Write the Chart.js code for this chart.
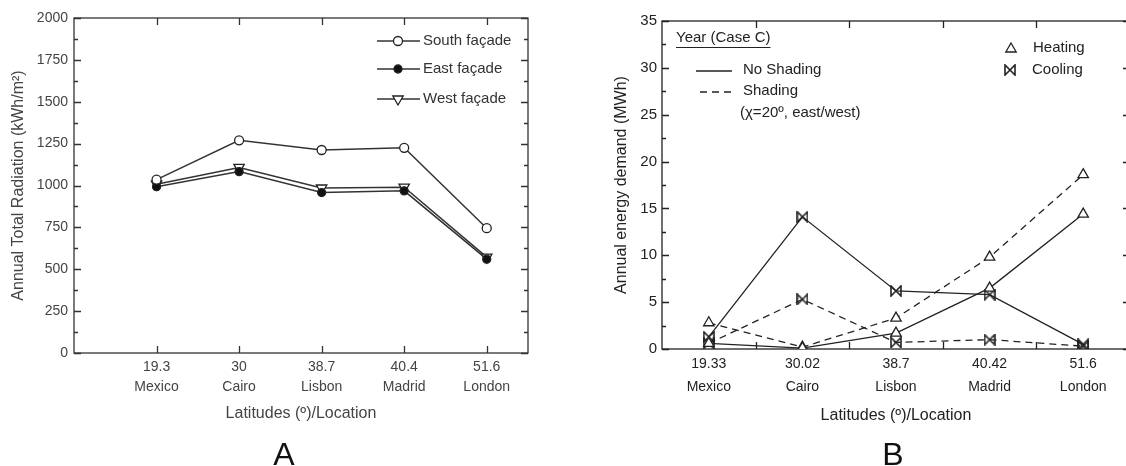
<!DOCTYPE html>
<html>
<head>
<meta charset="utf-8">
<script src="https://cdn.jsdelivr.net/npm/chart.js@4.4.1/dist/chart.umd.min.js"></script>
<style>
  html, body { margin: 0; padding: 0; background: #fff; width: 1126px; height: 466px; overflow: hidden; }
  .panel { position: absolute; top: 0; }
  #wrapA { left: 0; width: 560px; height: 466px; }
  #wrapB { left: 560px; width: 600px; height: 466px; }
  .letter { position: absolute; top: 436px; width: 60px; text-align: center; line-height: 32px;
            font: 32px "Liberation Sans", Arial, sans-serif; color: #111; }
</style>
</head>
<body>
<div class="panel" id="wrapA"><canvas id="chartA" width="560" height="466"></canvas></div>
<div class="panel" id="wrapB"><canvas id="chartB" width="600" height="466"></canvas></div>
<div class="letter" style="left:254px">A</div>
<div class="letter" style="left:863px">B</div>
<script>
const locations = ["Mexico", "Cairo", "Lisbon", "Madrid", "London"];
const latitudesA = ["19.3", "30", "38.7", "40.4", "51.6"];
const latitudesB = ["19.33", "30.02", "38.7", "40.42", "51.6"];

// panel A - kWh/m2
const southFacade = [1035, 1270, 1212, 1225, 745];
const eastFacade = [993, 1083, 958, 968, 560];
const westFacade = [1008, 1108, 985, 990, 572];

// panel B - MWh
const heatingNoShading = [0.6, 0.1, 1.7, 6.5, 14.4];
const heatingShading = [2.8, 0.2, 3.3, 9.8, 18.6];
const coolingNoShading = [1.3, 14.1, 6.2, 5.8, 0.5];
const coolingShading = [0.6, 5.3, 0.7, 1.0, 0.3];

const FONT = "'Liberation Sans', Arial, sans-serif";
const DASH = [7, 5];

const makeBowtie = (size, color) => {
    const c = document.createElement("canvas");
    c.width = size;
    c.height = size;
    const g = c.getContext("2d");
    g.strokeStyle = color;
    g.lineWidth = 1.6;
    const a = 1, b = size - 1;
    g.beginPath();
    g.moveTo(a, a); g.lineTo(a, b); g.lineTo(b, a); g.lineTo(b, b); g.closePath();
    g.stroke();
    return c;
};

// box round the plot with inward ticks on all four sides
const frameTicks = (opts) => ({
    id: "frameTicks",
    beforeDatasetsDraw(chart) {
        const { ctx, chartArea: a, scales } = chart;
        ctx.save();
        ctx.strokeStyle = opts.color;
        ctx.lineWidth = 1.3;
        ctx.strokeRect(a.left, a.top, a.right - a.left, a.bottom - a.top);
        ctx.beginPath();
        for (let v = scales.y.min; v <= scales.y.max + 1e-9; v += opts.yMinor) {
            const y = Math.round(scales.y.getPixelForValue(v)) + 0.5;
            const major = Math.abs(v / opts.yMajor - Math.round(v / opts.yMajor)) < 1e-6;
            const len = major ? 7 : 4;
            ctx.moveTo(a.left, y); ctx.lineTo(a.left + len, y);
            ctx.moveTo(a.right, y); ctx.lineTo(a.right - len, y);
        }
        opts.xTicks(scales.x).forEach((p) => {
            const px = Math.round(p) + 0.5;
            ctx.moveTo(px, a.bottom); ctx.lineTo(px, a.bottom - 7);
            ctx.moveTo(px, a.top); ctx.lineTo(px, a.top + 7);
        });
        ctx.stroke();
        ctx.restore();
    }
});

const legendA = {
    id: "legendA",
    afterDraw(chart) {
        const { ctx } = chart;
        const rows = [41, 69, 99];
        ctx.save();
        chart.data.datasets.forEach((ds, i) => {
            const y = rows[i];
            ctx.strokeStyle = ds.borderColor;
            ctx.lineWidth = ds.borderWidth;
            ctx.beginPath(); ctx.moveTo(377, y); ctx.lineTo(420, y); ctx.stroke();
            ctx.fillStyle = ds.pointBackgroundColor;
            ctx.strokeStyle = ds.pointBorderColor;
            ctx.lineWidth = ds.pointBorderWidth;
            Chart.helpers.drawPoint(ctx, {
                pointStyle: ds.pointStyle, rotation: ds.pointRotation || 0,
                radius: ds.pointRadius, borderWidth: ds.pointBorderWidth
            }, 398, y);
            ctx.fillStyle = "#333";
            ctx.font = `15px ${FONT}`;
            ctx.textBaseline = "middle";
            ctx.fillText(ds.label, 423, y);
        });
        ctx.restore();
    }
};

const bowtie = makeBowtie(12, "#222");

const legendB = {
    id: "legendB",
    afterDraw(chart) {
        const { ctx } = chart;
        ctx.save();
        ctx.fillStyle = "#222";
        ctx.strokeStyle = "#222";
        ctx.font = `15px ${FONT}`;
        ctx.textBaseline = "middle";
        ctx.fillText("Year (Case C)", 116, 38);
        const w = ctx.measureText("Year (Case C)").width;
        ctx.lineWidth = 1.2;
        ctx.beginPath(); ctx.moveTo(116, 47.5); ctx.lineTo(116 + w, 47.5); ctx.stroke();

        ctx.lineWidth = 1.3;
        ctx.beginPath(); ctx.moveTo(136, 71); ctx.lineTo(172, 71); ctx.stroke();
        ctx.setLineDash(DASH);
        ctx.beginPath(); ctx.moveTo(140, 92); ctx.lineTo(176, 92); ctx.stroke();
        ctx.setLineDash([]);
        ctx.fillText("No Shading", 183, 70);
        ctx.fillText("Shading", 183, 91);
        ctx.fillText("(\u03C7=20º, east/west)", 180, 113);

        ctx.fillStyle = "#fff";
        ctx.lineWidth = 1.3;
        Chart.helpers.drawPoint(ctx, { pointStyle: "triangle", rotation: 0, radius: 6, borderWidth: 1.3 }, 451, 49);
        ctx.drawImage(bowtie, 450 - bowtie.width / 2, 70 - bowtie.height / 2);
        ctx.fillStyle = "#222";
        ctx.fillText("Heating", 473, 48);
        ctx.fillText("Cooling", 472, 70);
        ctx.restore();
    }
};

const lineA = {
    borderColor: "#333", borderWidth: 1.5, tension: 0,
    pointBorderColor: "#222", pointBorderWidth: 1.3
};

new Chart(document.getElementById("chartA"), {
    type: "line",
    data: {
        datasets: [
            { ...lineA, label: "South façade", data: southFacade.map((v, i) => ({ x: i, y: v })),
              pointStyle: "circle", pointRadius: 4.5, pointBackgroundColor: "#fff" },
            { ...lineA, label: "East façade", data: eastFacade.map((v, i) => ({ x: i, y: v })),
              pointStyle: "circle", pointRadius: 4, pointBackgroundColor: "#111" },
            { ...lineA, label: "West façade", data: westFacade.map((v, i) => ({ x: i, y: v })),
              pointStyle: "triangle", pointRotation: 180, pointRadius: 6, pointBackgroundColor: "#fff" },
        ],
    },
    options: {
        responsive: false,
        animation: false,
        layout: { padding: { left: 9, top: 18, right: 32, bottom: 43 } },
        plugins: { legend: { display: false }, tooltip: { enabled: false } },
        scales: {
            x: {
                type: "linear", min: -1, max: 4.5,
                grid: { display: false, drawTicks: false },
                border: { display: false },
                afterBuildTicks: (s) => { s.ticks = latitudesA.map((_, i) => ({ value: i })); },
                ticks: {
                    autoSkip: false, maxRotation: 0, padding: 4, color: "#444",
                    font: { family: FONT, size: 14, lineHeight: 1.43 },
                    callback: (v) => [latitudesA[v], locations[v]],
                },
                title: { display: true, text: "Latitudes (º)/Location", color: "#444", padding: 0,
                         font: { family: FONT, size: 16 } },
                afterFit: (s) => { s.height = 70; },
            },
            y: {
                min: 0, max: 2000,
                grid: { display: false, drawTicks: false },
                border: { display: false },
                ticks: { stepSize: 250, padding: 6, color: "#444", font: { family: FONT, size: 14 },
                         callback: (v) => String(v) },
                title: { display: true, text: "Annual Total Radiation (kWh/m²)", color: "#444", padding: 0,
                         font: { family: FONT, size: 16 } },
                afterFit: (s) => { s.width = 65; },
            },
        },
    },
    plugins: [
        frameTicks({ color: "#333", yMajor: 250, yMinor: 125,
                     xTicks: (x) => latitudesA.map((_, i) => x.getPixelForValue(i)) }),
        legendA,
    ],
});

const lineB = {
    borderColor: "#222", borderWidth: 1.3, tension: 0,
    pointBorderColor: "#222", pointBorderWidth: 1.3, pointBackgroundColor: "#fff"
};

new Chart(document.getElementById("chartB"), {
    type: "line",
    data: {
        labels: locations,
        datasets: [
            { ...lineB, label: "Heating, no shading", data: heatingNoShading, pointStyle: "triangle", pointRadius: 6 },
            { ...lineB, label: "Heating, shading", data: heatingShading, borderDash: DASH, pointStyle: "triangle", pointRadius: 6 },
            { ...lineB, label: "Cooling, no shading", data: coolingNoShading, pointStyle: bowtie, pointRadius: 6 },
            { ...lineB, label: "Cooling, shading", data: coolingShading, borderDash: DASH, pointStyle: bowtie, pointRadius: 6 },
        ],
    },
    options: {
        responsive: false,
        animation: false,
        layout: { padding: { left: 52, top: 21, right: 30, bottom: 41 } },
        plugins: { legend: { display: false }, tooltip: { enabled: false } },
        scales: {
            x: {
                type: "category", offset: true,
                grid: { display: false, drawTicks: false },
                border: { display: false },
                ticks: {
                    autoSkip: false, maxRotation: 0, padding: 4, color: "#222",
                    font: { family: FONT, size: 14, lineHeight: 1.64 },
                    callback: (v, i) => [latitudesB[i], locations[i]],
                },
                title: { display: true, text: "Latitudes (º)/Location", color: "#222", padding: 0,
                         font: { family: FONT, size: 16 } },
                afterFit: (s) => { s.height = 76; },
            },
            y: {
                min: 0, max: 35,
                grid: { display: false, drawTicks: false },
                border: { display: false },
                ticks: { stepSize: 5, padding: 5, color: "#222", font: { family: FONT, size: 15 } },
                title: { display: true, text: "Annual energy demand (MWh)", color: "#222", padding: 0,
                         font: { family: FONT, size: 16 } },
                afterFit: (s) => { s.width = 50; },
            },
        },
    },
    plugins: [
        frameTicks({ color: "#222", yMajor: 5, yMinor: 2.5,
                     xTicks: (x) => locations.slice(1).map((_, i) =>
                         (x.getPixelForValue(i) + x.getPixelForValue(i + 1)) / 2) }),
        legendB,
    ],
});
</script>
</body>
</html>
